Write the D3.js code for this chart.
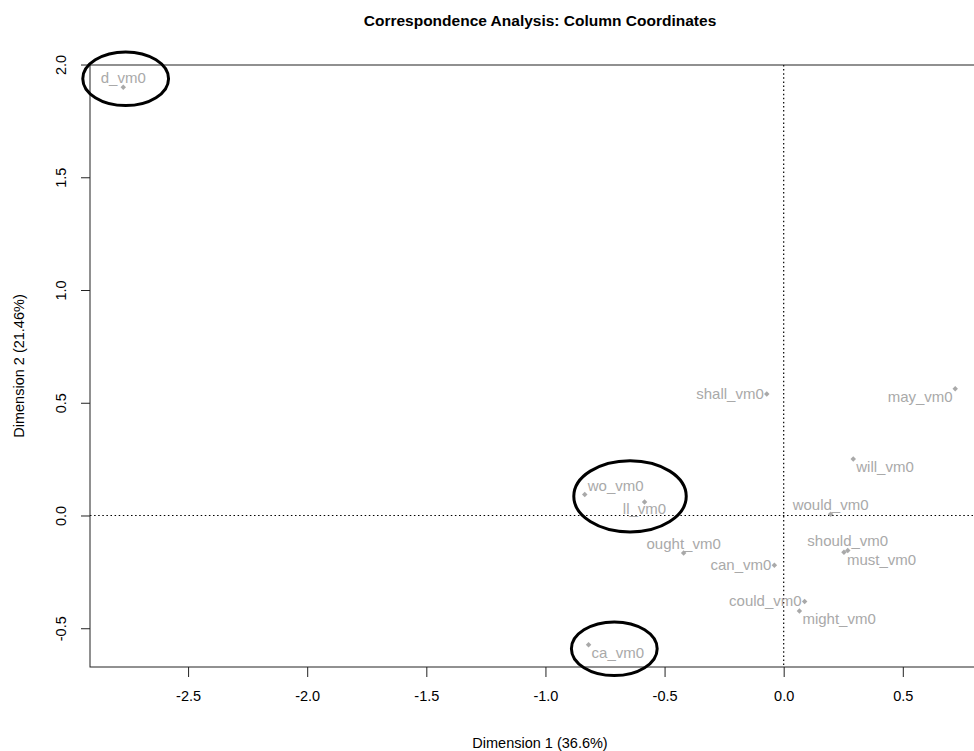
<!DOCTYPE html>
<html>
<head>
<meta charset="utf-8">
<script src="https://cdn.jsdelivr.net/npm/d3@7"></script>
<style>
  html, body { margin: 0; padding: 0; background: #ffffff; }
  svg { display: block; }
  text { font-family: "Liberation Sans", Arial, Helvetica, sans-serif; }
</style>
</head>
<body>
<div id="chart"></div>
<script>
// ---------------- data ----------------
const categories = ["d_vm0", "wo_vm0", "ll_vm0", "ought_vm0", "can_vm0", "shall_vm0", "may_vm0",
                    "will_vm0", "would_vm0", "should_vm0", "must_vm0", "could_vm0", "might_vm0", "ca_vm0"];
const dim1 = [-2.772, -0.835, -0.584, -0.420, -0.039, -0.071, 0.720,
               0.292,  0.197,  0.269,  0.253,  0.088,  0.066, -0.819];
const dim2 = [ 1.899,  0.093,  0.060, -0.166, -0.221,  0.539, 0.562,
               0.251,  0.006, -0.155, -0.163, -0.381, -0.424, -0.573];
const labelPlacement = ["top", "topright", "bottom", "top", "left", "left", "bottomleft",
                        "bottomright", "top", "top", "bottomright", "left", "bottomright", "bottomright"];
const xTicks = [-2.5, -2.0, -1.5, -1.0, -0.5, 0.0, 0.5];
const yTicks = [-0.5, 0.0, 0.5, 1.0, 1.5, 2.0];
const titleText = "Correspondence Analysis: Column Coordinates";
const xLabel = "Dimension 1 (36.6%)";
const yLabel = "Dimension 2 (21.46%)";
// highlight ellipses (data units): centre and radii
const ellipseCx = [-2.762, -0.645, -0.711];
const ellipseCy = [ 1.937,  0.085, -0.591];
const ellipseRx = [ 0.180,  0.236,  0.180];
const ellipseRy = [ 0.119,  0.158,  0.119];

// ---------------- layout ----------------
const W = 974, H = 751;
const plot = { left: 90, right: 988.5, top: 65, bottom: 667 };
const pointColor = "#a9a9a9";

function padExtent(vals) {
  const [lo, hi] = d3.extent(vals);
  const p = (hi - lo) * 0.04;
  return [lo - p, hi + p];
}

const x = d3.scaleLinear().domain(padExtent(dim1)).range([plot.left, plot.right]);
const y = d3.scaleLinear().domain(padExtent(dim2)).range([plot.bottom, plot.top]);

const svg = d3.select("#chart").append("svg")
  .attr("width", W).attr("height", H)
  .attr("viewBox", `0 0 ${W} ${H}`);

svg.append("rect").attr("width", W).attr("height", H).attr("fill", "#ffffff");

// title
svg.append("text")
  .attr("x", 540).attr("y", 26)
  .attr("text-anchor", "middle")
  .attr("font-size", 15.5).attr("font-weight", "bold")
  .attr("fill", "#000")
  .text(titleText);

// reference lines (dotted)
svg.append("line")
  .attr("x1", x(0)).attr("x2", x(0))
  .attr("y1", plot.top).attr("y2", plot.bottom)
  .attr("stroke", "#000").attr("stroke-width", 1.2)
  .attr("stroke-dasharray", "1.5,2.6");
svg.append("line")
  .attr("x1", plot.left).attr("x2", plot.right)
  .attr("y1", y(0)).attr("y2", y(0))
  .attr("stroke", "#000").attr("stroke-width", 1.2)
  .attr("stroke-dasharray", "1.5,2.6");

// box
svg.append("rect")
  .attr("x", plot.left).attr("y", plot.top)
  .attr("width", plot.right - plot.left).attr("height", plot.bottom - plot.top)
  .attr("fill", "none").attr("stroke", "#222").attr("stroke-width", 1);

const fmt = v => v.toFixed(1);

// x axis
const xAxis = d3.axisBottom(x).tickValues(xTicks).tickFormat(fmt).tickSize(10).tickPadding(14);
const gx = svg.append("g").attr("transform", `translate(0,${plot.bottom})`).call(xAxis);
gx.select(".domain").remove();
gx.selectAll(".tick line").attr("stroke", "#222");
gx.selectAll(".tick text").attr("font-size", 14.5).attr("fill", "#000")
  .attr("font-family", "Liberation Sans, Arial, sans-serif");

// y axis
const yAxis = d3.axisLeft(y).tickValues(yTicks).tickFormat(fmt).tickSize(9);
const gy = svg.append("g").attr("transform", `translate(${plot.left},0)`).call(yAxis);
gy.select(".domain").remove();
gy.selectAll(".tick line").attr("stroke", "#222");
gy.selectAll(".tick text")
  .attr("font-size", 14.5).attr("fill", "#000")
  .attr("font-family", "Liberation Sans, Arial, sans-serif")
  .attr("x", null).attr("dy", null)
  .attr("text-anchor", "middle")
  .attr("transform", "translate(-24,0) rotate(-90)");

// axis titles
svg.append("text")
  .attr("x", 540).attr("y", 748)
  .attr("text-anchor", "middle").attr("font-size", 14.5).attr("fill", "#000")
  .text(xLabel);
svg.append("text")
  .attr("transform", `translate(24,${(plot.top + plot.bottom) / 2}) rotate(-90)`)
  .attr("text-anchor", "middle").attr("font-size", 14.5).attr("fill", "#000")
  .text(yLabel);

// points
const pts = categories.map((c, i) => ({ name: c, d1: dim1[i], d2: dim2[i], pos: labelPlacement[i] }));
const diamond = d3.symbol().type(d3.symbolSquare).size(15);
svg.append("g").selectAll("path").data(pts).join("path")
  .attr("d", diamond)
  .attr("transform", d => `translate(${x(d.d1)},${y(d.d2)}) rotate(45)`)
  .attr("fill", pointColor);

// labels
const place = {
  top:         { anchor: "middle", dx: 0,    dy: -4 },
  topright:    { anchor: "start",  dx: 3,    dy: -4 },
  bottom:      { anchor: "middle", dx: 0,    dy: 12.5 },
  left:        { anchor: "end",    dx: -3,   dy: 5 },
  bottomleft:  { anchor: "end",    dx: -2.5, dy: 13 },
  bottomright: { anchor: "start",  dx: 3,    dy: 13 }
};
svg.append("g").selectAll("text").data(pts).join("text")
  .attr("x", d => x(d.d1) + place[d.pos].dx)
  .attr("y", d => y(d.d2) + place[d.pos].dy)
  .attr("text-anchor", d => place[d.pos].anchor)
  .attr("font-size", 15)
  .attr("fill", pointColor)
  .text(d => d.name);

// highlight ellipses
const ell = ellipseCx.map((cx, i) => ({ cx, cy: ellipseCy[i], rx: ellipseRx[i], ry: ellipseRy[i] }));
svg.append("g").selectAll("ellipse").data(ell).join("ellipse")
  .attr("cx", d => x(d.cx))
  .attr("cy", d => y(d.cy))
  .attr("rx", d => x(d.rx) - x(0))
  .attr("ry", d => y(0) - y(d.ry))
  .attr("fill", "none")
  .attr("stroke", "#000")
  .attr("stroke-width", 3);
</script>
</body>
</html>
